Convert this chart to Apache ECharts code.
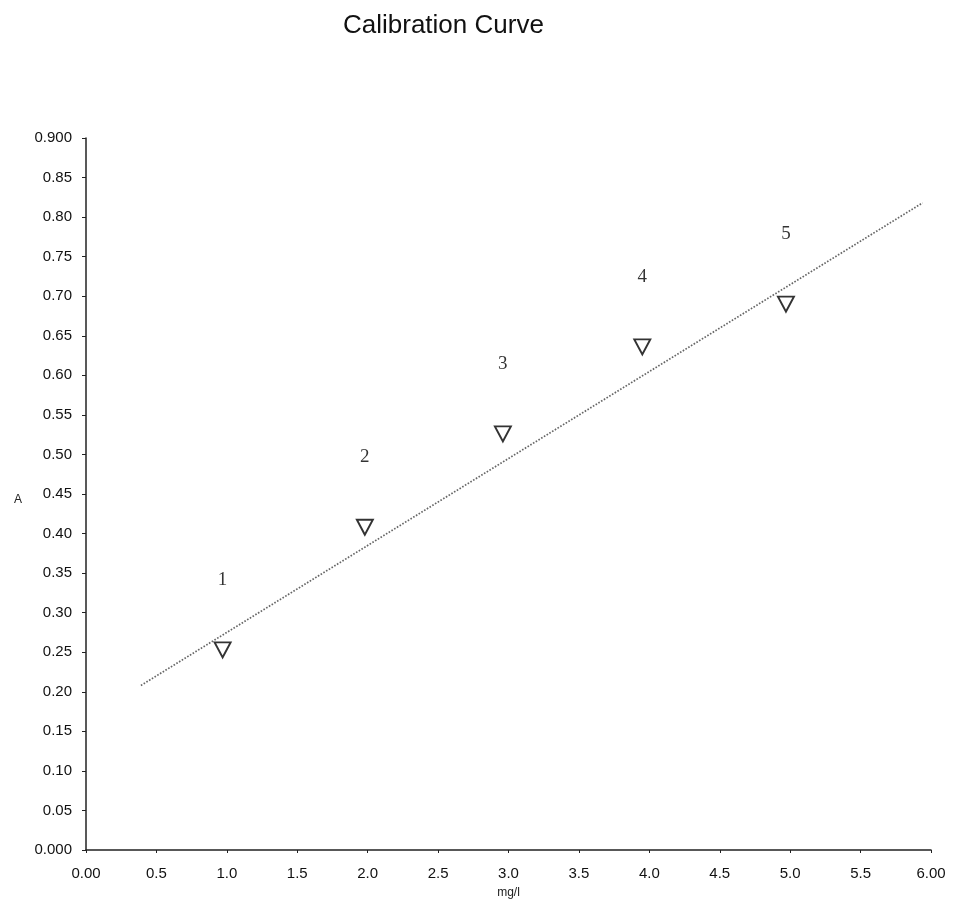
<!DOCTYPE html>
<html>
<head>
<meta charset="utf-8">
<script src="https://cdn.jsdelivr.net/npm/echarts@6/dist/echarts.min.js"></script>
<style>
html,body{margin:0;padding:0;background:#fff;}
#chart{width:954px;height:904px;}
</style>
</head>
<body>
<div id="chart"></div>
<script>
// Calibration standards (concentration mg/l, absorbance A)
const stdConc = [0.97, 1.98, 2.96, 3.95, 4.97];
const stdAbs = [0.253, 0.408, 0.526, 0.636, 0.690];
const stdLabels = ['1', '2', '3', '4', '5'];
// Fitted calibration line end points
const fitConc = [0.39, 5.94];
const fitAbs = [0.208, 0.818];
// Tick labels
const xTickLabels = ['0.00','0.5','1.0','1.5','2.0','2.5','3.0','3.5','4.0','4.5','5.0','5.5','6.00'];
const yTickLabels = ['0.000','0.05','0.10','0.15','0.20','0.25','0.30','0.35','0.40','0.45','0.50','0.55','0.60','0.65','0.70','0.75','0.80','0.85','0.900'];

const chart = echarts.init(document.getElementById('chart'), null, {renderer: 'canvas'});
const axisColor = '#222';
const option = {
  backgroundColor: '#fff',
  animation: false,
  title: {
    text: 'Calibration Curve',
    left: 343,
    top: 13,
    padding: 0,
    textStyle: {fontFamily: 'Liberation Sans, Arial, sans-serif', fontSize: 26, fontWeight: 'normal', color: '#111'}
  },
  grid: {left: 86, right: 23, top: 138, bottom: 48, containLabel: false},
  xAxis: {
    type: 'value', min: 0, max: 6, interval: 0.5,
    name: 'mg/l', nameLocation: 'middle', nameGap: 37,
    nameTextStyle: {fontFamily: 'Liberation Sans, Arial, sans-serif', fontSize: 12, color: '#222'},
    axisLine: {show: true, lineStyle: {color: axisColor, width: 1.5}},
    axisTick: {show: true, length: 3, lineStyle: {color: axisColor}},
    splitLine: {show: false},
    axisLabel: {
      margin: 16, color: '#111', fontSize: 15, fontFamily: 'Liberation Sans, Arial, sans-serif',
      formatter: v => xTickLabels[Math.round(v / 0.5)]
    }
  },
  yAxis: {
    type: 'value', min: 0, max: 0.9, interval: 0.05,
    name: 'A', nameLocation: 'middle', nameGap: 64, nameRotate: 0,
    nameTextStyle: {fontFamily: 'Liberation Sans, Arial, sans-serif', fontSize: 12, color: '#222', verticalAlign: 'top'},
    axisLine: {show: true, lineStyle: {color: axisColor, width: 1.5}},
    axisTick: {show: true, length: 4, lineStyle: {color: axisColor}},
    splitLine: {show: false},
    axisLabel: {
      margin: 14, color: '#111', fontSize: 15, fontFamily: 'Liberation Sans, Arial, sans-serif',
      formatter: v => yTickLabels[Math.round(v / 0.05)]
    }
  },
  series: [
    {
      type: 'line',
      data: fitConc.map((x, i) => [x, fitAbs[i]]),
      symbol: 'none',
      lineStyle: {color: '#666', width: 1.7, type: [1.6, 1.6]},
      z: 1
    },
    {
      type: 'scatter',
      data: stdConc.map((x, i) => [x, stdAbs[i]]),
      symbol: 'triangle',
      symbolRotate: 180,
      symbolSize: [16, 15],
      itemStyle: {color: '#fff', borderColor: '#000', borderWidth: 1.9},
      label: {
        show: true, position: 'top', distance: 52,
        formatter: p => stdLabels[p.dataIndex],
        fontFamily: 'Liberation Serif, Times New Roman, serif', fontSize: 19, color: '#000'
      },
      z: 3
    }
  ]
};
chart.setOption(option);
</script>
</body>
</html>
